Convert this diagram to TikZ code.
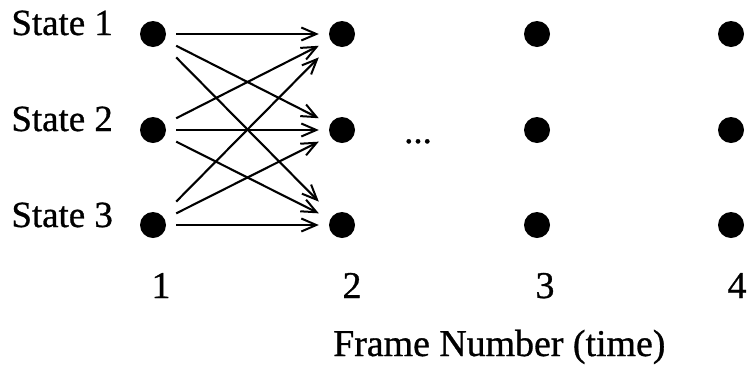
\documentclass[tikz,border=0pt]{standalone}
\usepackage{fontspec}
\setmainfont{Liberation Serif}[FakeBold=0.8]
\usetikzlibrary{arrows.meta, positioning}

\begin{document}
\begin{tikzpicture}[x=1bp, y=1bp,
		tnode/.style={rectangle, inner sep=0pt, minimum width=46bp, minimum height=90bp,
			path picture={\fill[black] (path picture bounding box.center) circle (13bp);}},
		trans/.style={-{Straight Barb[length=15bp, width=13bp, line width=2bp]}, line width=2.1bp},
		txt/.style={inner sep=0pt, font=\fontsize{37}{44}\selectfont}
	]
		\useasboundingbox (0,0) rectangle (750,-364);
		% states in each frame
		\foreach \c/\x in {1/153,2/342,3/537,4/731}
			\foreach \r/\y in {1/-34,2/-130,3/-225}
				\node[tnode] (s\r\c) at (\x,\y) {};
		\node[txt, anchor=base east] (st1) at (113,-35) {State 1};
		\node[txt, anchor=base east] (st2) at (113,-131) {State 2};
		\node[txt, anchor=base east] (st3) at (113,-227) {State 3};
		\node[txt, anchor=base west] (gap) at (404,-143) {...};
		% frame numbers
		\foreach \c/\x in {1/161,2/352,3/545,4/737}
			\node[txt, anchor=base, font=\fontsize{38}{44}\selectfont] (n\c) at (\x,-298) {\c};
		\node[txt, anchor=base west, font=\fontsize{38}{44}\selectfont] (axis) at (333,-356) {Frame Number (time)};
		% transitions from frame 1 to frame 2
		\foreach \a in {1,2,3}
			\foreach \b in {1,2,3}
				\draw[trans] (s\a1) -- (s\b2);
	\end{tikzpicture}
\end{document}
